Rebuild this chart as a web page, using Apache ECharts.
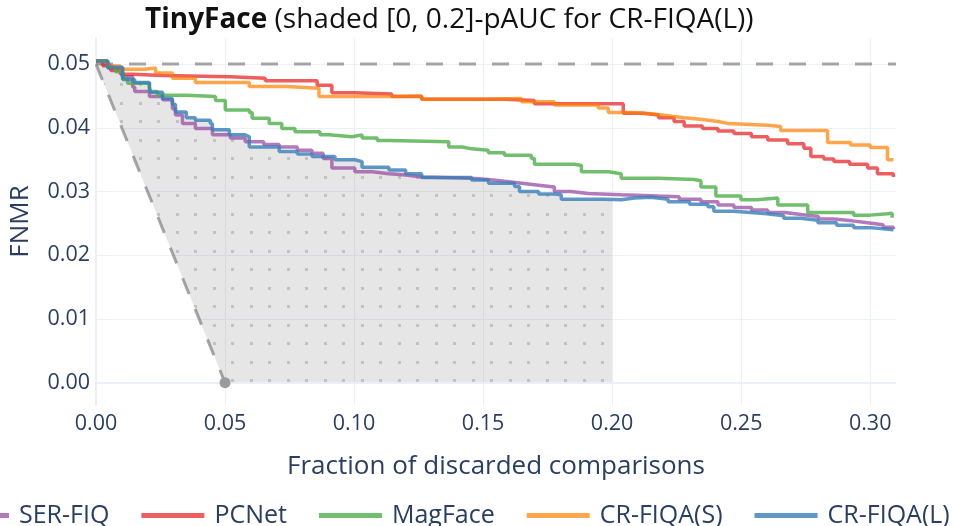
<!DOCTYPE html>
<html>
<head>
<meta charset="utf-8">
<script src="https://cdn.jsdelivr.net/npm/echarts@6/dist/echarts.min.js"></script>
<style>
  html, body { margin: 0; padding: 0; background: #fff; }
  #chart { width: 953px; height: 526px; }
</style>
</head>
<body>
<div id="chart"></div>
<script>
'use strict';
// tick values
var xTicks = [0, 0.05, 0.10, 0.15, 0.20, 0.25, 0.30];
var yTicks = [0, 0.01, 0.02, 0.03, 0.04, 0.05];

var names = ['SER-FIQ', 'PCNet', 'MagFace', 'CR-FIQA(S)', 'CR-FIQA(L)'];
var colors = ['rgba(152,78,163,0.75)', 'rgba(228,26,28,0.7)', 'rgba(77,175,74,0.8)',
  'rgba(255,127,0,0.7)', 'rgba(55,126,184,0.8)'];

// [fraction discarded, fnmr] (step changes)
var serFiq = [[0,0.0505],[0.0045,0.0494],[0.0103,0.0480],[0.0142,0.0464],[0.0150,0.0457],[0.0207,0.0449],
  [0.0258,0.0444],[0.0296,0.0430],[0.0308,0.0420],[0.0335,0.0407],[0.0385,0.0399],[0.0451,0.0389],
  [0.0520,0.0384],[0.0578,0.0378],[0.0650,0.0374],[0.0710,0.0370],[0.0780,0.0365],[0.0837,0.0360],
  [0.0880,0.0352],[0.0914,0.0337],[0.1003,0.0331],[0.1070,0.0328],[0.1135,0.0326],[0.1200,0.0323],
  [0.1262,0.0321],[0.1455,0.0319],[0.1520,0.0316],[0.1583,0.0313],[0.1650,0.0310],[0.1715,0.0307],
  [0.1776,0.0300],[0.1840,0.0297],[0.1907,0.0295],[0.2035,0.0293],[0.2178,0.0292],[0.2260,0.0288],
  [0.2344,0.0284],[0.2410,0.0279],[0.2472,0.0275],[0.2540,0.0271],[0.2603,0.0267],[0.2670,0.0264],
  [0.2731,0.0261],[0.2800,0.0257],[0.2859,0.0254],[0.2930,0.0251],[0.2990,0.0248],[0.3050,0.0244],
  [0.3090,0.0241]];
var pcNet = [[0,0.0505],[0.0026,0.0498],[0.0057,0.0490],[0.0095,0.0484],[0.0142,0.0482],[0.0258,0.0480],
  [0.0520,0.0478],[0.0656,0.0474],[0.0857,0.0467],[0.0914,0.0455],[0.1003,0.0453],[0.1146,0.0449],
  [0.1262,0.0445],[0.1583,0.0443],[0.1699,0.0438],[0.2043,0.0423],[0.2120,0.0420],[0.2180,0.0416],
  [0.2240,0.0410],[0.2279,0.0403],[0.2350,0.0399],[0.2410,0.0395],[0.2472,0.0391],[0.2540,0.0386],
  [0.2603,0.0381],[0.2680,0.0375],[0.2743,0.0368],[0.2770,0.0355],[0.2820,0.0351],[0.2859,0.0347],
  [0.2920,0.0343],[0.2990,0.0337],[0.3028,0.0328],[0.3090,0.0323]];
var magFace = [[0,0.0505],[0.0045,0.0495],[0.0076,0.0488],[0.0103,0.0478],[0.0122,0.0470],[0.0207,0.0457],
  [0.0238,0.0451],[0.0350,0.0449],[0.0463,0.0443],[0.0501,0.0428],[0.0594,0.0424],[0.0605,0.0415],
  [0.0671,0.0407],[0.0720,0.0399],[0.0771,0.0394],[0.0868,0.0389],[0.0903,0.0386],[0.0992,0.0389],
  [0.1031,0.0384],[0.1090,0.0380],[0.1135,0.0378],[0.1367,0.0370],[0.1420,0.0367],[0.1455,0.0365],
  [0.1520,0.0361],[0.1583,0.0357],[0.1687,0.0352],[0.1699,0.0343],[0.1854,0.0341],[0.1881,0.0331],
  [0.1985,0.0328],[0.2035,0.0321],[0.2180,0.0319],[0.2318,0.0317],[0.2344,0.0307],[0.2402,0.0293],
  [0.2499,0.0287],[0.2560,0.0290],[0.2642,0.0279],[0.2758,0.0267],[0.2936,0.0263],[0.3000,0.0265],
  [0.3067,0.0266],[0.3085,0.0259]];
var crFiqaS = [[0,0.0505],[0.0045,0.0497],[0.0095,0.0492],[0.0188,0.0494],[0.0231,0.0486],[0.0296,0.0478],
  [0.0385,0.0471],[0.0594,0.0465],[0.0740,0.0462],[0.0864,0.0449],[0.1135,0.0450],[0.1262,0.0445],
  [0.1521,0.0446],[0.1649,0.0441],[0.1776,0.0436],[0.1946,0.0431],[0.1985,0.0424],[0.2086,0.0422],
  [0.2150,0.0419],[0.2217,0.0416],[0.2279,0.0413],[0.2350,0.0410],[0.2410,0.0407],[0.2448,0.0404],
  [0.2603,0.0402],[0.2653,0.0396],[0.2835,0.0377],[0.2924,0.0373],[0.3000,0.0369],[0.3067,0.0350],
  [0.3090,0.0349]];
var crFiqaL = [[0,0.0505],[0.0045,0.0495],[0.0103,0.0476],[0.0150,0.0471],[0.0207,0.0464],[0.0211,0.0456],
  [0.0258,0.0446],[0.0296,0.0437],[0.0308,0.0425],[0.0350,0.0416],[0.0385,0.0412],[0.0443,0.0407],
  [0.0451,0.0397],[0.0517,0.0389],[0.0578,0.0386],[0.0594,0.0370],[0.0710,0.0363],[0.0780,0.0359],
  [0.0837,0.0355],[0.0926,0.0350],[0.1003,0.0347],[0.1031,0.0338],[0.1135,0.0334],[0.1200,0.0328],
  [0.1262,0.0322],[0.1455,0.0318],[0.1521,0.0313],[0.1622,0.0308],[0.1641,0.0300],[0.1715,0.0296],
  [0.1776,0.0295],[0.1803,0.0288],[0.1970,0.0287],[0.2035,0.0290],[0.2086,0.0291],[0.2150,0.0288],
  [0.2217,0.0284],[0.2300,0.0280],[0.2371,0.0276],[0.2394,0.0269],[0.2470,0.0267],[0.2537,0.0265],
  [0.2600,0.0262],[0.2665,0.0258],[0.2730,0.0255],[0.2797,0.0251],[0.2870,0.0247],[0.2936,0.0243],
  [0.3010,0.0240],[0.3090,0.0239]];
var curves = [serFiq, pcNet, magFace, crFiqaS, crFiqaL];

// reference lines: FNMR level and the ideal-discard diagonal
var baseFnmr = 0.05;
var xMax = 0.31;
var pAucEnd = 0.2;
var idealEnd = 0.05;

var font = '"Open Sans", "DejaVu Sans", sans-serif';
var textColor = '#2a3f5f';
var gridColor = '#ebf0f8';
var refGray = 'rgba(128,128,128,0.7)';

// dotted fill for the pAUC area
function makePattern() {
  var c = document.createElement('canvas');
  c.width = 37; c.height = 37;
  var ctx = c.getContext('2d');
  ctx.fillStyle = 'rgba(128,128,128,0.2)';
  ctx.fillRect(0, 0, 37, 37);
  ctx.fillStyle = 'rgba(110,110,110,0.3)';
  [[9, 9], [28, 9], [9, 28], [28, 28]].forEach(function(p) {
    ctx.fillRect(p[0], p[1], 3, 3);
  });
  return c;
}
var pattern = makePattern();

// step outline of CR-FIQA(L) up to pAucEnd, closed by the diagonal
function shadeOutline() {
  var pts = [];
  var last = null;
  crFiqaL.forEach(function(p) {
    if (p[0] > pAucEnd) { return; }
    if (last) { pts.push([p[0], last[1]]); }
    pts.push(p);
    last = p;
  });
  pts.push([pAucEnd, last[1]]);
  pts.push([pAucEnd, 0]);
  pts.push([idealEnd, 0]);
  pts.push([0, baseFnmr]);
  return pts;
}
var shadePts = shadeOutline();

var series = [];
series.push({
  name: 'shade',
  type: 'custom',
  z: 1,
  silent: true,
  data: [0],
  renderItem: function(params, api) {
    var points = shadePts.map(function(p) { return api.coord(p); });
    return {
      type: 'polygon',
      shape: { points: points },
      style: { fill: { image: pattern, repeat: 'repeat' } }
    };
  }
});
series.push({
  name: 'zero',
  type: 'line',
  z: 0,
  silent: true,
  data: [],
  markLine: {
    silent: true,
    symbol: 'none',
    label: { show: false },
    lineStyle: { color: gridColor, width: 2, type: 'solid' },
    data: [{ yAxis: 0 }]
  }
});
series.push({
  name: 'level',
  type: 'line',
  z: 2,
  silent: true,
  symbol: 'none',
  data: [[0, baseFnmr], [xMax, baseFnmr]],
  lineStyle: { color: refGray, width: 3, type: [17, 16] }
});
series.push({
  name: 'ideal',
  type: 'line',
  z: 2,
  silent: true,
  symbol: 'none',
  data: [[0, baseFnmr], [idealEnd, 0]],
  lineStyle: { color: refGray, width: 3, type: [17, 16] }
});
series.push({
  name: 'idealEnd',
  type: 'scatter',
  z: 5,
  silent: true,
  clip: false,
  symbol: 'circle',
  symbolSize: 11,
  data: [[idealEnd, 0]],
  itemStyle: { color: '#9b9b9b', opacity: 1 }
});
names.forEach(function(n, i) {
  series.push({
    name: n,
    type: 'line',
    step: 'end',
    z: 3,
    symbol: 'none',
    color: colors[i],
    lineStyle: { width: 3.5, color: colors[i] },
    data: curves[i]
  });
});

var chart = echarts.init(document.getElementById('chart'), null, { renderer: 'canvas' });
chart.setOption({
  animation: false,
  backgroundColor: '#fff',
  title: {
    text: '{b|TinyFace} (shaded [0, 0.2]-pAUC for CR-FIQA(L))',
    left: 140,
    top: 1,
    textStyle: {
      fontFamily: font, fontSize: 28, fontWeight: 'normal', color: '#111',
      rich: { b: { fontFamily: font, fontSize: 28, fontWeight: 'bold', color: '#111' } }
    }
  },
  legend: {
    data: names,
    orient: 'horizontal',
    left: -59,
    top: 498,
    width: 1100,
    icon: 'rect',
    itemWidth: 63,
    itemHeight: 5,
    itemGap: 32,
    textStyle: { fontFamily: font, fontSize: 25, color: textColor, padding: [0, 0, 0, 5] }
  },
  grid: { left: 93, right: 57, top: 38, bottom: 121, containLabel: false },
  xAxis: {
    type: 'value',
    min: 0,
    max: xMax,
    name: 'Fraction of discarded comparisons',
    nameLocation: 'middle',
    nameGap: 49,
    nameTextStyle: { fontFamily: font, fontSize: 26, color: textColor },
    axisLine: { show: false },
    axisTick: { show: false, customValues: xTicks },
    axisLabel: {
      customValues: xTicks, margin: 8,
      fontFamily: font, fontSize: 21.5, color: textColor,
      formatter: function(v) { return v.toFixed(2); }
    },
    splitLine: { show: true, lineStyle: { color: gridColor, width: 1 } }
  },
  yAxis: {
    type: 'value',
    min: -0.0035,
    max: 0.0541,
    name: 'FNMR',
    nameLocation: 'middle',
    nameGap: 62,
    nameTextStyle: { fontFamily: font, fontSize: 26, color: textColor },
    axisLine: { show: true, lineStyle: { color: gridColor, width: 2 } },
    axisTick: { show: false, customValues: yTicks },
    axisLabel: {
      customValues: yTicks, margin: 6,
      fontFamily: font, fontSize: 21.5, color: textColor,
      formatter: function(v) { return v.toFixed(2); }
    },
    splitLine: { show: true, lineStyle: { color: gridColor, width: 1 } }
  },
  series: series
});
window.addEventListener('resize', function() { chart.resize(); });
</script>
</body>
</html>
